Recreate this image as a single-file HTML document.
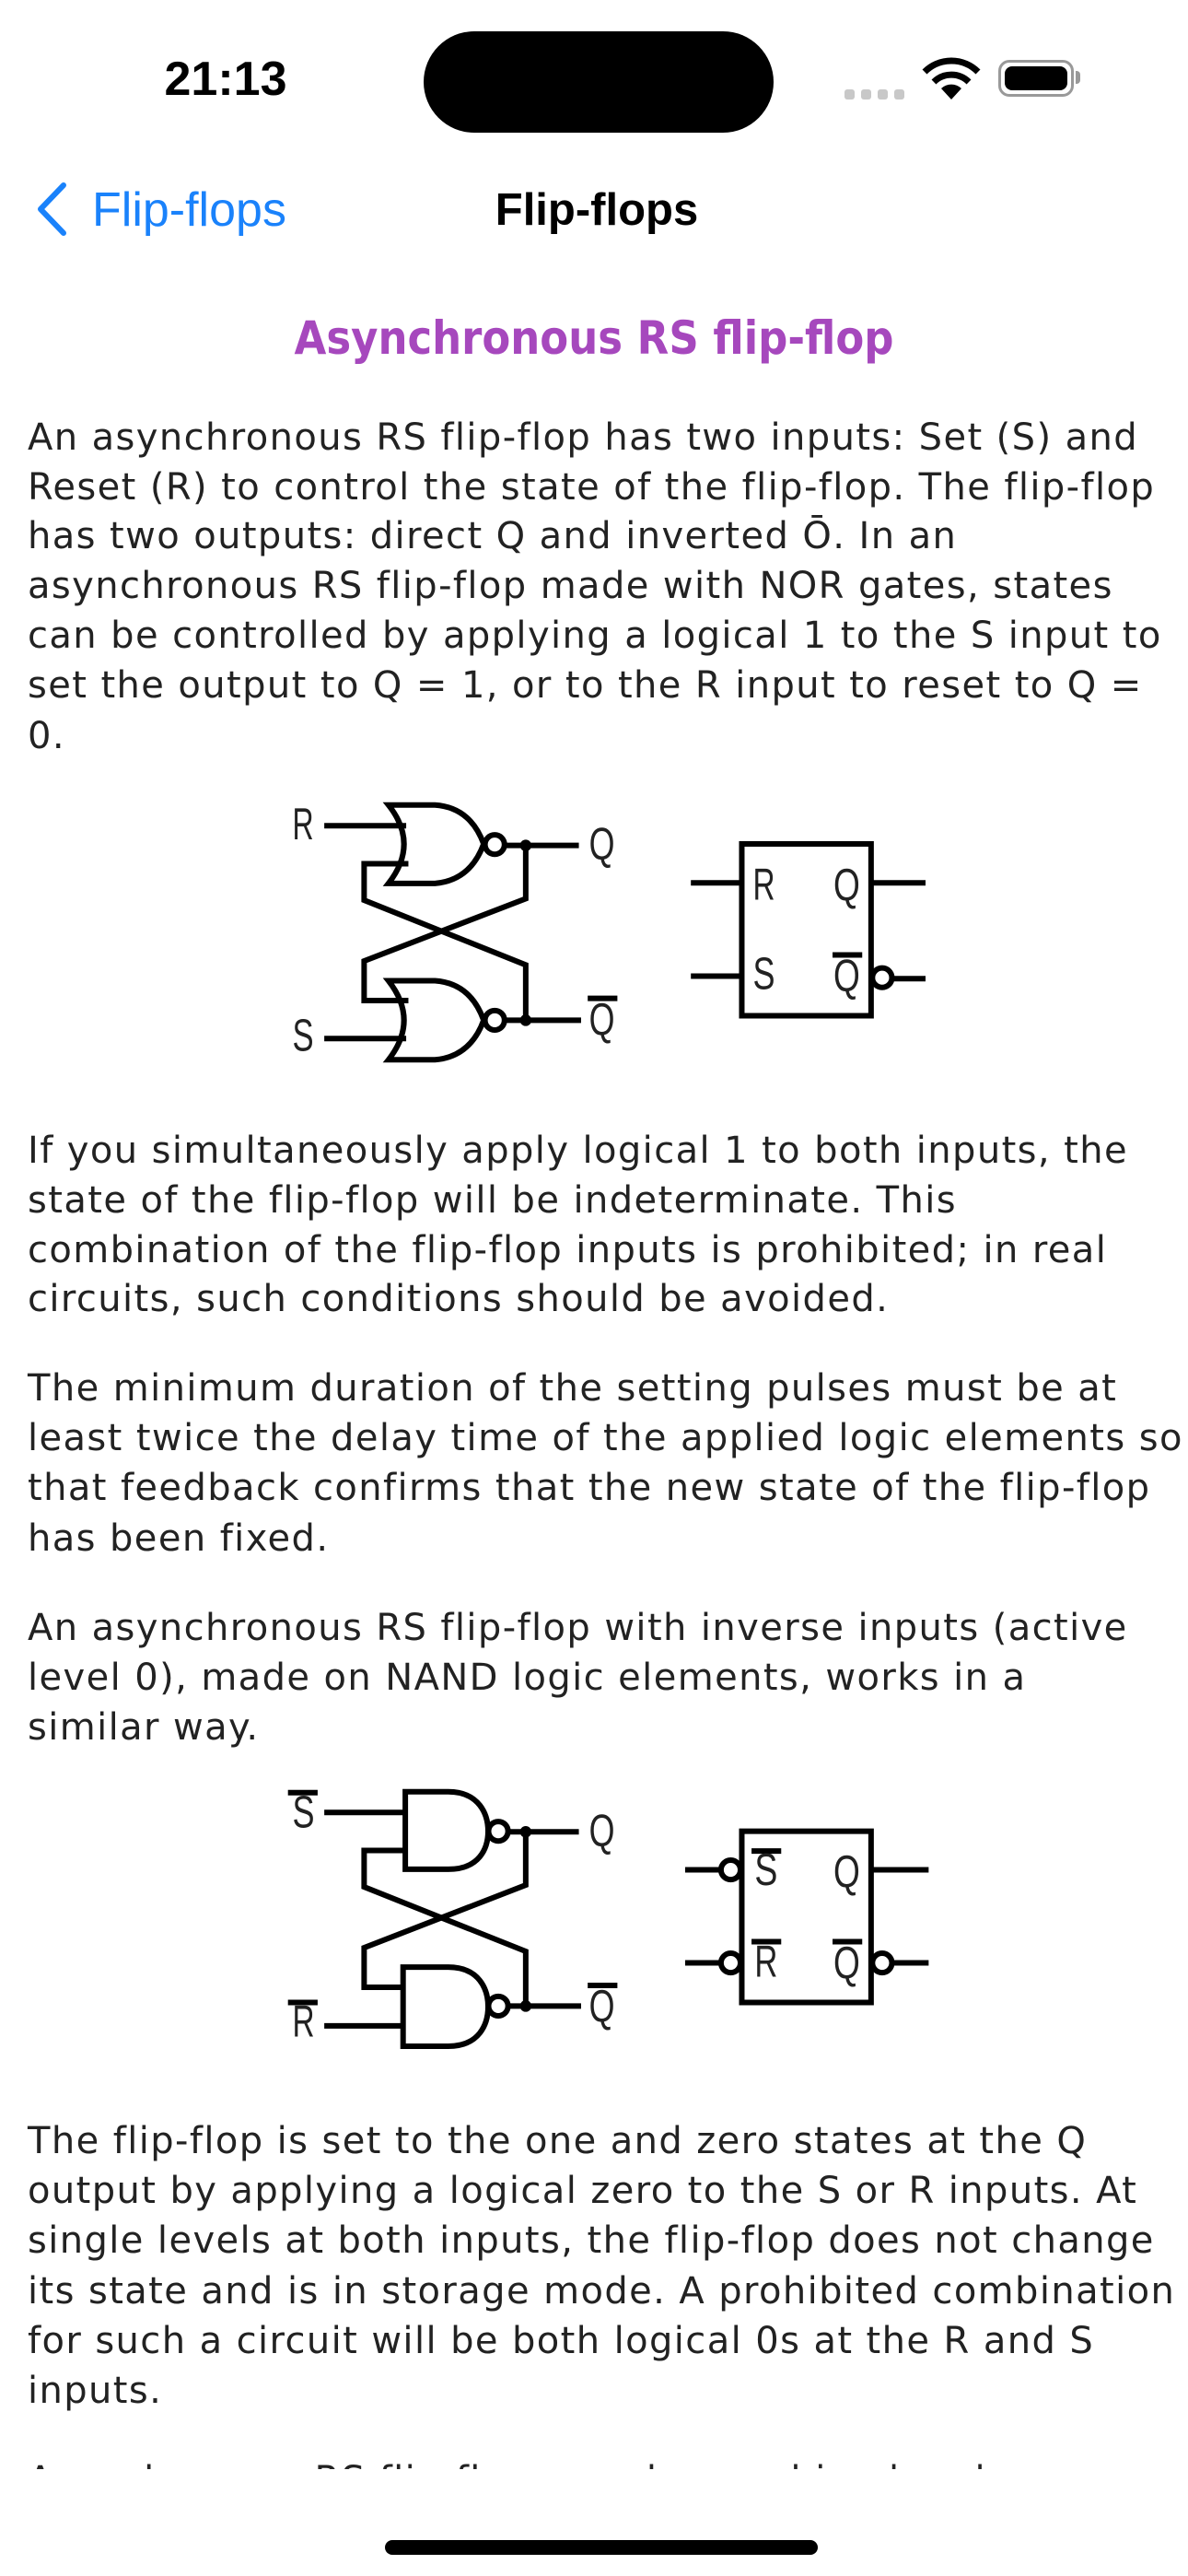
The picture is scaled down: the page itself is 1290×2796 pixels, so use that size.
<!DOCTYPE html>
<html><head><meta charset="utf-8">
<style>
html,body{margin:0;padding:0;background:#fff;}
body{width:1290px;height:2796px;position:relative;overflow:hidden;font-family:"DejaVu Sans","Liberation Sans",sans-serif;}
.l{position:absolute;left:30px;height:54px;line-height:54px;font-size:40px;letter-spacing:1.4px;color:#222;white-space:nowrap;}
.abs{position:absolute;}
</style></head><body>
<!-- status bar -->
<div class="abs" style="left:170px;top:52px;width:150px;text-align:center;font-family:'Liberation Sans',sans-serif;font-weight:bold;font-size:52px;line-height:68px;color:#000;">21:13</div>
<div class="abs" style="left:460px;top:34px;width:380px;height:110px;border-radius:55px;background:#000;"></div>
<div class="abs" style="left:917px;top:97px;width:11px;height:11px;border-radius:3px;background:#c8c8c8;"></div>
<div class="abs" style="left:935px;top:97px;width:11px;height:11px;border-radius:3px;background:#c8c8c8;"></div>
<div class="abs" style="left:953px;top:97px;width:11px;height:11px;border-radius:3px;background:#c8c8c8;"></div>
<div class="abs" style="left:971px;top:97px;width:11px;height:11px;border-radius:3px;background:#c8c8c8;"></div>
<svg class="abs" style="left:1000px;top:62px" width="66" height="48" viewBox="0 0 66 48">
<path d="M33 46 L22 34 A16 16 0 0 1 44 34 Z" fill="#000"/>
<path d="M14 27 A27 27 0 0 1 52 27" fill="none" stroke="#000" stroke-width="7"/>
<path d="M4 16 A41 41 0 0 1 62 16" fill="none" stroke="#000" stroke-width="7"/>
</svg>
<div class="abs" style="left:1084px;top:65px;width:76px;height:34px;border:3px solid #999;border-radius:12px;"></div>
<div class="abs" style="left:1091px;top:72px;width:68px;height:26px;border-radius:8px;background:#000;"></div>
<div class="abs" style="left:1168px;top:77px;width:5px;height:14px;border-radius:0 4px 4px 0;background:#999;"></div>
<!-- nav -->
<svg class="abs" style="left:36px;top:196px" width="40" height="62" viewBox="0 0 40 62"><path d="M33 5 L8 31 L33 57" fill="none" stroke="#1a82fb" stroke-width="6" stroke-linecap="round" stroke-linejoin="round"/></svg>
<div class="abs" style="left:100px;top:198px;font-family:'Liberation Sans',sans-serif;font-size:52px;line-height:60px;color:#1a82fb;">Flip-flops</div>
<div class="abs" style="left:445px;top:198px;width:406px;text-align:center;font-family:'Liberation Sans',sans-serif;font-weight:bold;font-size:49px;line-height:60px;color:#000;">Flip-flops</div>
<!-- heading -->
<div class="abs" style="left:0;top:333px;width:1290px;text-align:center;font-family:'DejaVu Sans Condensed','Liberation Sans',sans-serif;font-weight:bold;font-size:50px;line-height:68px;color:#a648bd;">Asynchronous RS flip-flop</div>
<!-- para 1 -->
<div class="l" style="top:448px">An asynchronous RS flip-flop has two inputs: Set (S) and</div>
<div class="l" style="top:502px">Reset (R) to control the state of the flip-flop. The flip-flop</div>
<div class="l" style="top:555px">has two outputs: direct Q and inverted Ō. In an</div>
<div class="l" style="top:609px">asynchronous RS flip-flop made with NOR gates, states</div>
<div class="l" style="top:663px">can be controlled by applying a logical 1 to the S input to</div>
<div class="l" style="top:717px">set the output to Q = 1, or to the R input to reset to Q =</div>
<div class="l" style="top:772px">0.</div>
<!-- diagram 1 -->
<svg class="abs" style="left:280px;top:850px" width="750" height="330" viewBox="0 0 1560 1000" preserveAspectRatio="none">
<g fill="none" stroke="#000" stroke-width="6">
<path vector-effect="non-scaling-stroke" d="M295,72 L400,72 Q480,80 510,200 Q480,320 400,330 L295,330 Q365,200 295,72 Z"/>
<path vector-effect="non-scaling-stroke" d="M295,650 L400,650 Q480,658 510,780 Q480,900 400,910 L295,910 Q365,780 295,650 Z"/>
<ellipse vector-effect="non-scaling-stroke" cx="535" cy="202" rx="22" ry="32"/>
<ellipse vector-effect="non-scaling-stroke" cx="535" cy="780" rx="22" ry="32"/>
<path vector-effect="non-scaling-stroke" d="M150,140 L335,140 M150,840 L335,840 M557,205 L725,205 M557,780 L730,780"/>
<path vector-effect="non-scaling-stroke" d="M340,265 L240,265 L240,385 L605,598 L605,780"/>
<path vector-effect="non-scaling-stroke" d="M605,205 L605,380 L240,585 L240,715 L340,715"/>
<rect vector-effect="non-scaling-stroke" x="1093" y="200" width="292" height="565"/>
<path vector-effect="non-scaling-stroke" d="M978,328 L1093,328 M978,635 L1093,635 M1385,328 L1508,328 M1432,643 L1508,643"/>
<ellipse vector-effect="non-scaling-stroke" cx="1410" cy="640" rx="22" ry="32"/>
<path vector-effect="non-scaling-stroke" d="M745,708 L812,708 M1298,565 L1365,565"/>
</g>
<ellipse cx="605" cy="205" rx="13" ry="19"/>
<ellipse cx="605" cy="780" rx="13" ry="19"/>
<g font-family="Liberation Sans, sans-serif" font-size="150" fill="#222">
<text x="78" y="185" textLength="48" lengthAdjust="spacingAndGlyphs">R</text>
<text x="78" y="880" textLength="48" lengthAdjust="spacingAndGlyphs">S</text>
<text x="748" y="250" textLength="58" lengthAdjust="spacingAndGlyphs">Q</text>
<text x="748" y="828" textLength="58" lengthAdjust="spacingAndGlyphs">Q</text>
<text x="1118" y="383" textLength="50" lengthAdjust="spacingAndGlyphs">R</text>
<text x="1118" y="678" textLength="50" lengthAdjust="spacingAndGlyphs">S</text>
<text x="1300" y="385" textLength="60" lengthAdjust="spacingAndGlyphs">Q</text>
<text x="1300" y="683" textLength="60" lengthAdjust="spacingAndGlyphs">Q</text>
</g>
</svg>
<!-- para 2 -->
<div class="l" style="top:1222px">If you simultaneously apply logical 1 to both inputs, the</div>
<div class="l" style="top:1276px">state of the flip-flop will be indeterminate. This</div>
<div class="l" style="top:1330px">combination of the flip-flop inputs is prohibited; in real</div>
<div class="l" style="top:1383px">circuits, such conditions should be avoided.</div>
<!-- para 3 -->
<div class="l" style="top:1480px">The minimum duration of the setting pulses must be at</div>
<div class="l" style="top:1534px">least twice the delay time of the applied logic elements so</div>
<div class="l" style="top:1588px">that feedback confirms that the new state of the flip-flop</div>
<div class="l" style="top:1643px">has been fixed.</div>
<!-- para 4 -->
<div class="l" style="top:1740px">An asynchronous RS flip-flop with inverse inputs (active</div>
<div class="l" style="top:1794px">level 0), made on NAND logic elements, works in a</div>
<div class="l" style="top:1848px">similar way.</div>
<!-- diagram 2 -->
<svg class="abs" style="left:280px;top:1920px" width="750" height="330" viewBox="0 0 1560 1000" preserveAspectRatio="none">
<g fill="none" stroke="#000" stroke-width="6">
<path vector-effect="non-scaling-stroke" d="M333,75 L430,75 C500,75 520,150 520,205 C520,262 500,330 430,330 L333,330 Z"/>
<path vector-effect="non-scaling-stroke" d="M328,652 L430,652 C500,652 520,725 520,782 C520,840 500,912 430,912 L328,912 Z"/>
<ellipse vector-effect="non-scaling-stroke" cx="543" cy="205" rx="22" ry="32"/>
<ellipse vector-effect="non-scaling-stroke" cx="543" cy="780" rx="22" ry="32"/>
<path vector-effect="non-scaling-stroke" d="M150,143 L333,143 M150,845 L328,845 M565,207 L725,207 M565,780 L730,780"/>
<path vector-effect="non-scaling-stroke" d="M333,268 L240,268 L240,388 L605,600 L605,780"/>
<path vector-effect="non-scaling-stroke" d="M605,207 L605,382 L240,588 L240,718 L328,718"/>
<rect vector-effect="non-scaling-stroke" x="1093" y="205" width="292" height="563"/>
<path vector-effect="non-scaling-stroke" d="M965,332 L1046,332 M965,638 L1046,638 M1385,332 L1515,332 M1432,638 L1515,638"/>
<ellipse vector-effect="non-scaling-stroke" cx="1068" cy="332" rx="22" ry="32"/>
<ellipse vector-effect="non-scaling-stroke" cx="1068" cy="638" rx="22" ry="32"/>
<ellipse vector-effect="non-scaling-stroke" cx="1410" cy="638" rx="22" ry="32"/>
<path vector-effect="non-scaling-stroke" d="M68,78 L135,78 M68,768 L135,768 M745,712 L812,712 M1115,270 L1182,270 M1115,568 L1182,568 M1298,568 L1365,568"/>
</g>
<ellipse cx="605" cy="207" rx="13" ry="19"/>
<ellipse cx="605" cy="780" rx="13" ry="19"/>
<g font-family="Liberation Sans, sans-serif" font-size="150" fill="#222">
<text x="78" y="193" textLength="50" lengthAdjust="spacingAndGlyphs">S</text>
<text x="78" y="880" textLength="50" lengthAdjust="spacingAndGlyphs">R</text>
<text x="748" y="253" textLength="58" lengthAdjust="spacingAndGlyphs">Q</text>
<text x="748" y="830" textLength="58" lengthAdjust="spacingAndGlyphs">Q</text>
<text x="1122" y="382" textLength="52" lengthAdjust="spacingAndGlyphs">S</text>
<text x="1122" y="683" textLength="52" lengthAdjust="spacingAndGlyphs">R</text>
<text x="1300" y="388" textLength="60" lengthAdjust="spacingAndGlyphs">Q</text>
<text x="1300" y="688" textLength="60" lengthAdjust="spacingAndGlyphs">Q</text>
</g>
</svg>
<!-- para 5 -->
<div class="l" style="top:2297px">The flip-flop is set to the one and zero states at the Q</div>
<div class="l" style="top:2351px">output by applying a logical zero to the S or R inputs. At</div>
<div class="l" style="top:2405px">single levels at both inputs, the flip-flop does not change</div>
<div class="l" style="top:2460px">its state and is in storage mode. A prohibited combination</div>
<div class="l" style="top:2514px">for such a circuit will be both logical 0s at the R and S</div>
<div class="l" style="top:2568px">inputs.</div>
<!-- clipped line -->
<div class="abs" style="left:0;top:2640px;width:1290px;height:40px;overflow:hidden;">
<div class="l" style="top:25px">Asynchronous RS flip-flops can be combined and</div>
</div>
<!-- home indicator -->
<div class="abs" style="left:418px;top:2757px;width:470px;height:16px;border-radius:8px;background:#000;"></div>
</body></html>
